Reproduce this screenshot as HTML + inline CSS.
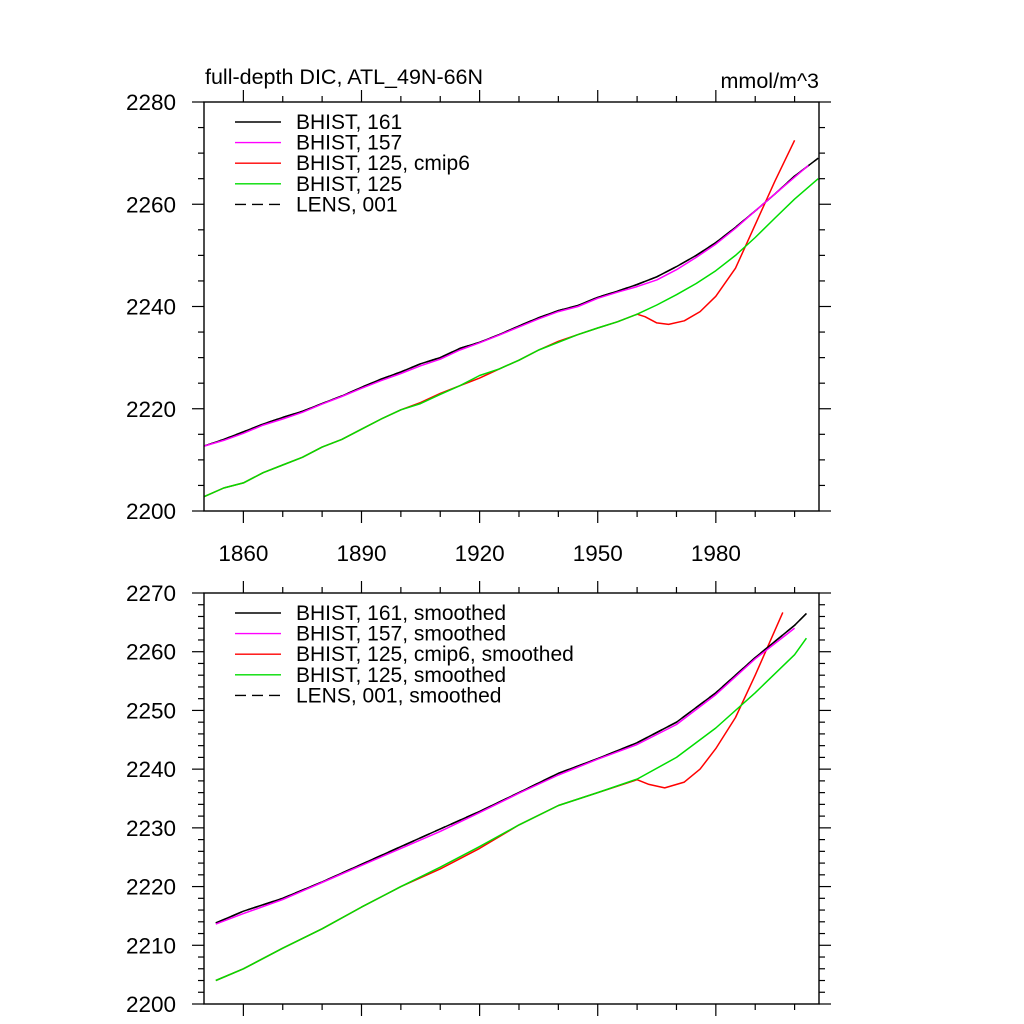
<!DOCTYPE html>
<html><head><meta charset="utf-8"><style>
html,body{margin:0;padding:0;background:#fff}
svg{display:block;font-family:"Liberation Sans",sans-serif}
</style></head><body>
<svg id="chart" width="1024" height="1024" viewBox="0 0 1024 1024">
<text x="205" y="84" font-size="21.5">full-depth DIC, ATL_49N-66N</text>
<text x="819" y="88" font-size="21.5" text-anchor="end">mmol/m^3</text>
<g id="p1"></g>
<g id="p2"></g>
</svg>
<script>
// ---- data: top panel (raw) ----
const topBlackYears = [1850,1855,1860,1865,1870,1875,1880,1885,1890,1895,1900,1905,1910,1915,1920,1925,1930,1935,1940,1945,1950,1955,1960,1965,1970,1975,1980,1985,1990,1995,2000,2006];
const topBlackVals = [2212.7,2214,2215.5,2217,2218.3,2219.5,2221,2222.5,2224.2,2225.8,2227.2,2228.8,2230,2231.8,2233,2234.5,2236.2,2237.8,2239.2,2240.2,2241.8,2243,2244.3,2245.8,2247.8,2250,2252.5,2255.5,2258.7,2262,2265.5,2269];
const topMagentaYears = [1850,1855,1860,1865,1870,1875,1880,1885,1890,1895,1900,1905,1910,1915,1920,1925,1930,1935,1940,1945,1950,1955,1960,1965,1970,1975,1980,1985,1990,1995,2000,2003.5];
const topMagentaVals = [2212.7,2213.8,2215.2,2216.8,2218,2219.3,2220.9,2222.4,2224,2225.5,2226.9,2228.4,2229.7,2231.5,2232.9,2234.4,2236,2237.6,2239,2240,2241.6,2242.8,2243.9,2245.2,2247.2,2249.6,2252.2,2255.3,2258.7,2262,2265.3,2267.6];
const topGreenYears = [1850,1855,1860,1865,1870,1875,1880,1885,1890,1895,1900,1905,1910,1915,1920,1925,1930,1935,1940,1945,1950,1955,1960,1965,1970,1975,1980,1985,1990,1995,2000,2006];
const topGreenVals = [2202.8,2204.5,2205.5,2207.5,2209,2210.5,2212.5,2214,2216,2218,2219.8,2221,2222.8,2224.5,2226.5,2227.8,2229.5,2231.5,2233,2234.5,2235.8,2237,2238.5,2240.3,2242.3,2244.5,2247,2250,2253.5,2257.3,2261,2265];
const topRedYears = [1850,1855,1860,1865,1870,1875,1880,1885,1890,1895,1900,1905,1910,1915,1920,1925,1930,1935,1940,1945,1950,1955,1960,1962,1965,1968,1972,1976,1980,1985,1990,1995,2000];
const topRedVals = [2202.8,2204.5,2205.5,2207.5,2209,2210.5,2212.5,2214,2216,2218,2219.8,2221.2,2223,2224.5,2226,2227.8,2229.5,2231.5,2233.2,2234.5,2235.8,2237,2238.5,2238,2236.8,2236.5,2237.2,2239,2242,2247.5,2256,2264.5,2272.5];
// ---- data: bottom panel (smoothed) ----
const botBlackYears = [1853,1860,1870,1880,1890,1900,1910,1920,1930,1940,1950,1960,1970,1980,1990,2000,2003];
const botBlackVals = [2213.8,2215.8,2218,2220.8,2223.8,2226.8,2229.8,2232.8,2236,2239.3,2241.8,2244.5,2248,2253,2259,2264.5,2266.5];
const botMagentaYears = [1853,1860,1870,1880,1890,1900,1910,1920,1930,1940,1950,1960,1970,1980,1990,2000];
const botMagentaVals = [2213.6,2215.4,2217.8,2220.7,2223.6,2226.5,2229.4,2232.6,2235.9,2239,2241.7,2244.2,2247.6,2252.7,2258.8,2264];
const botGreenYears = [1853,1860,1870,1880,1890,1900,1910,1920,1930,1940,1950,1960,1970,1980,1990,2000,2003];
const botGreenVals = [2204,2206,2209.5,2212.8,2216.5,2220,2223.3,2226.8,2230.5,2233.8,2236,2238.3,2242,2247,2253,2259.5,2262.3];
const botRedYears = [1853,1860,1870,1880,1890,1900,1910,1920,1930,1940,1950,1960,1963,1967,1972,1976,1980,1985,1990,1997];
const botRedVals = [2204,2206,2209.5,2212.8,2216.5,2220,2223,2226.5,2230.5,2233.8,2236,2238.2,2237.4,2236.8,2237.8,2240,2243.5,2248.8,2256,2266.7];
const xTickLabels = ["1860","1890","1920","1950","1980"];
const topYTicks = [2200,2220,2240,2260,2280];
const botYTicks = [2200,2210,2220,2230,2240,2250,2260,2270];
const topLegend = ["BHIST, 161","BHIST, 157","BHIST, 125, cmip6","BHIST, 125","LENS, 001"];
const botLegend = ["BHIST, 161, smoothed","BHIST, 157, smoothed","BHIST, 125, cmip6, smoothed","BHIST, 125, smoothed","LENS, 001, smoothed"];

const NS="http://www.w3.org/2000/svg";
function mk(tag,attrs,parent){const e=document.createElementNS(NS,tag);for(const k in attrs)e.setAttribute(k,attrs[k]);parent.appendChild(e);return e;}

function panel(g,top,bottom,ymin,ymax,yTicks,minorStep,showXLabels,series,legend,legTop){
  const L=204,R=819,X0=1850,X1=2006.2;
  const sx=v=>L+(v-X0)/(X1-X0)*(R-L);
  const sy=v=>bottom-(v-ymin)/(ymax-ymin)*(bottom-top);
  for(let yr=1860;yr<=2000;yr+=10){
    const major=(yr-1860)%30===0, len=major?12:6, x=sx(yr);
    const t1=mk('line',{x1:x,x2:x,y1:bottom,y2:bottom+len,stroke:'#000','stroke-width':1.2},g);
    
    
    const t2=mk('line',{x1:x,x2:x,y1:top,y2:top-len,stroke:'#000','stroke-width':1.2},g);
    
    
  }
  if(showXLabels){
    xTickLabels.forEach(s=>{
      const t=mk('text',{x:sx(+s),y:bottom+50,'font-size':22.5,'text-anchor':'middle'},g);
      t.textContent=s;
      
      
    });
  }
  for(let v=ymin;v<=ymax+1e-9;v+=minorStep){
    const major=yTicks.some(t=>Math.abs(t-v)<1e-6), len=major?12:6, y=sy(v);
    const a=mk('line',{x1:L,x2:L-len,y1:y,y2:y,stroke:'#000','stroke-width':1.2},g);
    
    
    const b=mk('line',{x1:R,x2:R+len,y1:y,y2:y,stroke:'#000','stroke-width':1.2},g);
    
    
  }
  yTicks.forEach(v=>{
    const t=mk('text',{x:176,y:sy(v)+8,'font-size':22.5,'text-anchor':'end'},g);
    t.textContent=String(v);
    
    
  });
  series.forEach(s=>{
    const d=s.years.map((yr,i)=>(i?'L':'M')+sx(yr).toFixed(1)+' '+sy(s.vals[i]).toFixed(1)).join(' ');
    const p=mk('path',{d:d,fill:'none',stroke:s.color,'stroke-width':1.5,'stroke-linejoin':'round'},g);
    if(s.dash)p.setAttribute('stroke-dasharray',s.dash);
    
    
  });
  const f=mk('rect',{x:L,y:top,width:R-L,height:bottom-top,fill:'none',stroke:'#000','stroke-width':1.4},g);
  
  
  const cols=['#000','#ff00ff','#ff0000','#00dd00','#000'];
  legend.forEach((lab,i)=>{
    const y=legTop+i*20.6;
    const ln=mk('line',{x1:235,x2:281,y1:y,y2:y,stroke:cols[i],'stroke-width':1.4},g);
    if(i===4)ln.setAttribute('stroke-dasharray','11 6');
    
    
    const t=mk('text',{x:296,y:y+7,'font-size':21},g);
    t.textContent=lab;
    
    
  });
}
panel(document.getElementById('p1'),102,511,2200,2280,topYTicks,5,true,[
  {name:'series-lens-001',years:topBlackYears,vals:topBlackVals,color:'#000',dash:'11 6'},
  {name:'series-bhist-125-cmip6',years:topRedYears,vals:topRedVals,color:'#ff0000'},
  {name:'series-bhist-125',years:topGreenYears,vals:topGreenVals,color:'#00dd00'},
  {name:'series-bhist-161',years:topBlackYears,vals:topBlackVals,color:'#000'},
  {name:'series-bhist-157',years:topMagentaYears,vals:topMagentaVals,color:'#ff00ff'}
],topLegend,122);
panel(document.getElementById('p2'),593,1004,2200,2270,botYTicks,2,false,[
  {name:'series-lens-001-smoothed',years:botBlackYears,vals:botBlackVals,color:'#000',dash:'11 6'},
  {name:'series-bhist-125-cmip6-smoothed',years:botRedYears,vals:botRedVals,color:'#ff0000'},
  {name:'series-bhist-125-smoothed',years:botGreenYears,vals:botGreenVals,color:'#00dd00'},
  {name:'series-bhist-161-smoothed',years:botBlackYears,vals:botBlackVals,color:'#000'},
  {name:'series-bhist-157-smoothed',years:botMagentaYears,vals:botMagentaVals,color:'#ff00ff'}
],botLegend,613);
</script>
</body></html>
